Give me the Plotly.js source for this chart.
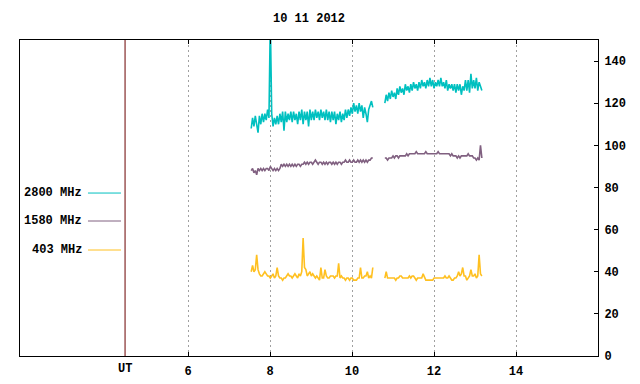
<!DOCTYPE html>
<html>
<head>
<meta charset="utf-8">
<script src="https://cdn.plot.ly/plotly-3.0.1.min.js"></script>
<style>html,body{margin:0;padding:0;background:#fff;}#chart{width:640px;height:384px;}</style>
</head>
<body>
<div id="chart"></div>
<script>
// Sampling: 2-minute steps (hours UT)
const seg1Start = 7.54;
const seg2Start = 10.80;
const stepHours = 1 / 30;

const seriesNames = ["2800 MHz", "1580 MHz", "403 MHz"];
const seriesColors = ["#00c0c0", "#806080", "#ffc020"];

const mhz2800_seg1 = [108,113,109,114,110, 106,114,110,115,111, 115,112,117,113,160,
  115,109,113,110,114, 110,115,111,116,107, 116,111,115,112,116, 111,116,112,115,110,
  116,112,117,110,116, 112,116,109,117,112, 116,112,117,113,116, 112,117,113,116,112,
  117,112,116,111,116, 112,116,110,115,112, 116,111,115,112,117, 113,117,114,118,115,
  120,116,119,115,120, 116,119,113,118,115, 111,117,119,121,118];
const mhz2800_seg2 = [120,124,121,125,122, 126,123,125,122,127, 124,128,125,127,124,
  129,126,128,125,129, 126,130,127,129,126, 130,127,131,128,130, 127,131,128,132,128,
  131,127,130,128,131, 128,132,128,130,127, 131,126,129,127,129, 126,129,125,129,126,
  129,124,128,126,131, 126,131,125,134,127, 131,127,132,126,130, 128,126];

const mhz1580_seg1 = [88,89,87,88,86, 89,88,89,88,89, 88,89,89,88,90, 89,88,89,88,89,
  88,89,91,90,91, 90,91,90,91,90, 91,90,91,90,91, 91,90,91,91,92, 91,92,91,92,92,
  91,92,93,92,91, 92,92,91,92,91, 92,91,92,92,91, 92,91,92,91,92, 92,91,92,92,93,
  92,92,93,92,92, 93,92,92,93,92, 93,92,93,92,93, 92,93,93,94,94];
const mhz1580_seg2 = [94,94,93,94,94, 94,95,94,95,95, 94,95,95,95,95, 95,96,95,96,96,
  96,96,96,97,96, 96,96,96,96,96, 97,96,96,96,96, 96,96,96,96,97, 96,96,96,96,96,
  96,96,96,95,96, 95,95,95,94,95, 94,95,95,95,95, 95,96,95,95,95, 94,94,93,94,93,
  100,94];

const mhz403_seg1 = [40,43,40,41,48, 41,39,38,38,39, 40,39,38,38,37, 38,39,37,38,42,
  38,37,37,36,37, 37,38,39,38,38, 37,38,39,38,37, 39,38,40,56,42, 41,38,39,40,38,
  39,38,37,38,37, 36,42,37,37,41, 38,37,37,38,38, 38,37,38,38,44, 37,38,37,37,36,
  37,37,36,37,37, 36,36,36,37,37, 42,37,37,38,38, 40,37,38,37,42];
const mhz403_seg2 = [37,40,37,37,37, 37,37,37,36,37, 37,38,38,37,37, 37,37,37,38,37,
  38,38,37,36,37, 37,37,37,39,37, 36,36,36,36,36, 36,37,37,37,37, 37,37,37,37,38,
  37,37,38,37,36, 36,37,37,38,40, 38,39,42,38,38, 36,37,38,41,38, 38,39,37,38,48,
  39,38];

const xTickVals = [6, 8, 10, 12, 14];
const yTickVals = [0, 20, 40, 60, 80, 100, 120, 140];
const utPosition = 4.463;

function buildSeries(seg1, seg2) {
  const x = [], y = [];
  seg1.forEach((v, i) => { x.push(seg1Start + i * stepHours); y.push(v); });
  x.push(null); y.push(null);
  seg2.forEach((v, i) => { x.push(seg2Start + i * stepHours); y.push(v); });
  return {x, y};
}

const allSeries = [
  buildSeries(mhz2800_seg1, mhz2800_seg2),
  buildSeries(mhz1580_seg1, mhz1580_seg2),
  buildSeries(mhz403_seg1, mhz403_seg2)
];

const traces = allSeries.map((s, k) => ({
  type: 'scatter', mode: 'lines', x: s.x, y: s.y, name: seriesNames[k],
  line: {color: seriesColors[k], width: 1.6}, connectgaps: false, hoverinfo: 'skip'
}));

const font = {family: '"Liberation Mono", "DejaVu Sans Mono", monospace', size: 12, color: '#000'};
const boldFont = Object.assign({}, font, {weight: 'bold'});

const legendY = [0.5157, 0.4272, 0.3354];
const annotations = seriesNames.map((n, k) => ({
  xref: 'paper', yref: 'paper', x: 0.111, y: legendY[k], xanchor: 'right', yanchor: 'middle',
  text: n, showarrow: false, font: boldFont
}));
annotations.push({xref: 'x', yref: 'paper', x: utPosition, y: -0.041, xanchor: 'center', yanchor: 'middle',
  text: 'UT', showarrow: false, font: boldFont});

const shapes = seriesNames.map((n, k) => ({
  type: 'line', xref: 'paper', yref: 'paper', x0: 0.1176, x1: 0.1747, y0: legendY[k], y1: legendY[k],
  line: {color: seriesColors[k], width: 1}
}));
shapes.push({type: 'line', xref: 'x', yref: 'paper', x0: utPosition, x1: utPosition, y0: 0, y1: 1,
  line: {color: '#6a0000', width: 1}});

const layout = {
  width: 640, height: 384,
  margin: {l: 20, r: 42, t: 40, b: 28},
  paper_bgcolor: '#fff', plot_bgcolor: '#fff',
  showlegend: false,
  font: boldFont,
  title: {text: '10 11 2012', x: 0.5, xref: 'paper', y: 0.953, yanchor: 'middle', font: boldFont},
  xaxis: {
    range: [1.9, 16], tickvals: xTickVals, ticktext: xTickVals.map(String),
    ticks: 'inside', ticklen: 4, tickcolor: '#000', mirror: 'ticks',
    showline: true, linecolor: '#000', linewidth: 1,
    showgrid: true, gridcolor: '#a0a0a0', griddash: '2px,3px', gridwidth: 1,
    zeroline: false, tickfont: boldFont, ticklabelstandoff: 4
  },
  yaxis: {
    range: [0, 150], side: 'right', tickvals: yTickVals,
    ticks: 'inside', ticklen: 4, tickcolor: '#000', mirror: true,
    showline: true, linecolor: '#000', linewidth: 1,
    showgrid: false, zeroline: false, tickfont: boldFont, ticklabelstandoff: 3
  },
  annotations: annotations,
  shapes: shapes
};

Plotly.newPlot('chart', traces, layout, {staticPlot: true, displayModeBar: false});
</script>
</body>
</html>
